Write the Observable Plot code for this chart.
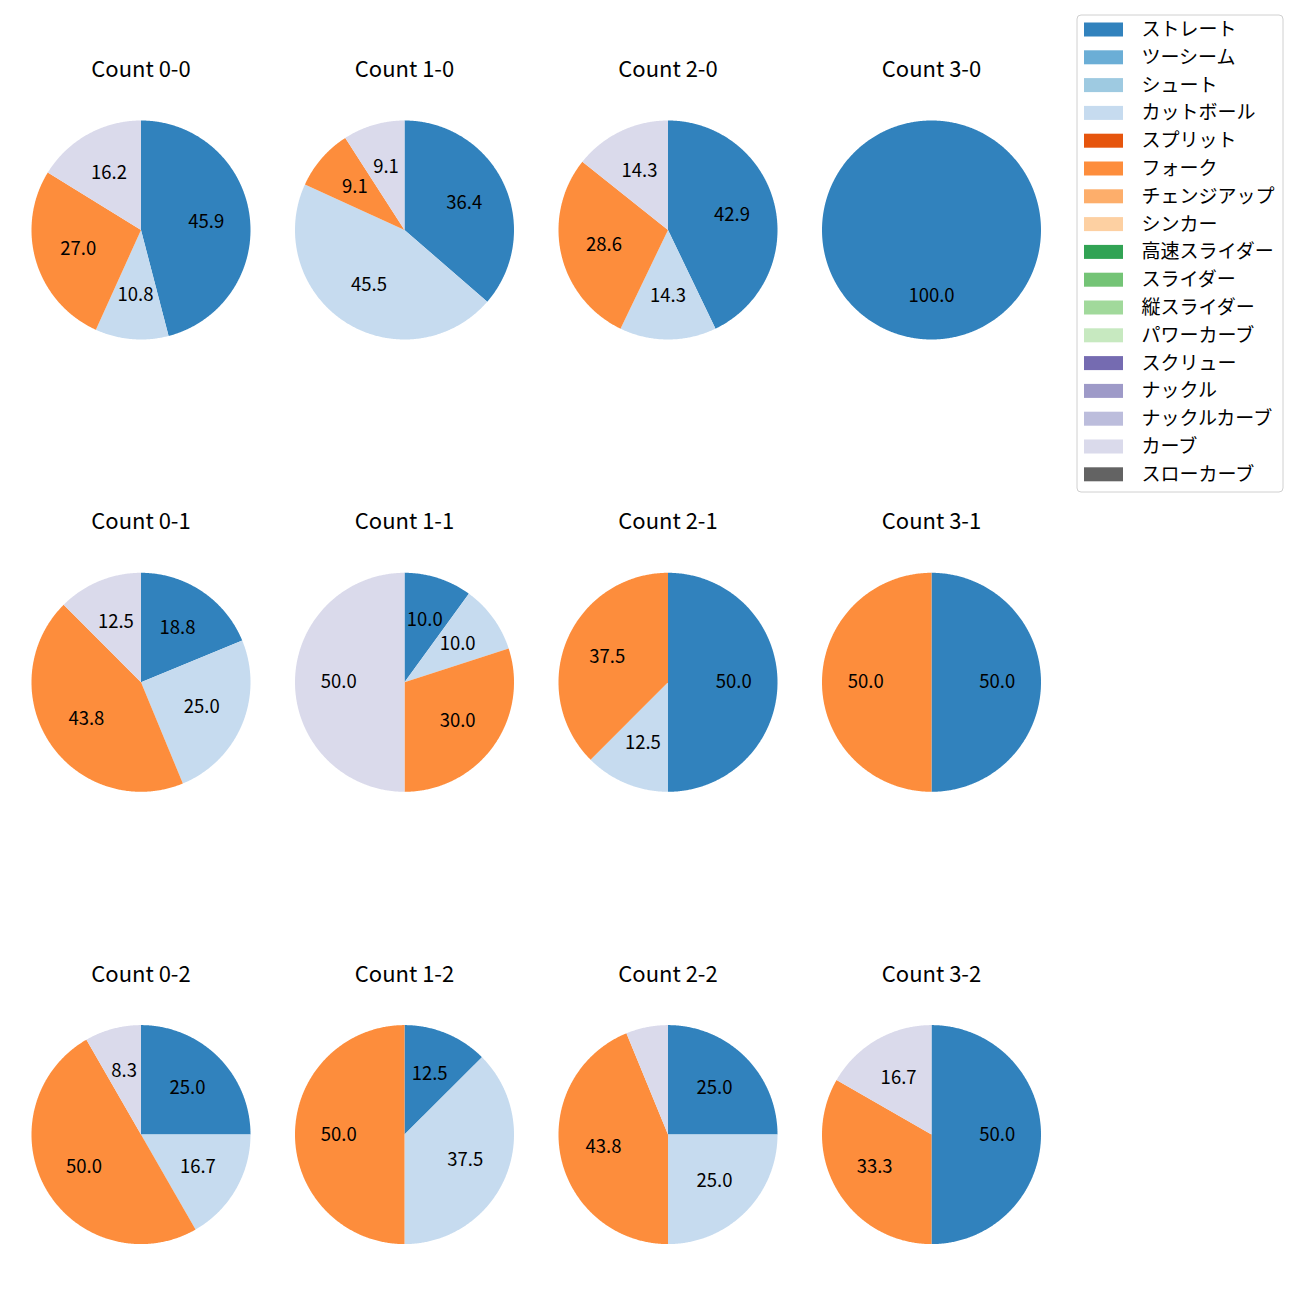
<!DOCTYPE html>
<html><head><meta charset="utf-8">
<script src="https://cdn.jsdelivr.net/npm/d3@7"></script>
<script src="https://cdn.jsdelivr.net/npm/@observablehq/plot@0.6"></script>
<style>body{margin:0;background:#fff}</style>
</head><body><div id="chart"></div>
<script>
const pitchTypes = ["ストレート","ツーシーム","シュート","カットボール","スプリット","フォーク","チェンジアップ","シンカー","高速スライダー","スライダー","縦スライダー","パワーカーブ","スクリュー","ナックル","ナックルカーブ","カーブ","スローカーブ"];
const pitchColors = ["#3182bd","#6baed6","#9ecae1","#c6dbef","#e6550d","#fd8d3c","#fdae6b","#fdd0a2","#31a354","#74c476","#a1d99b","#c7e9c0","#756bb1","#9e9ac8","#bcbddc","#dadaeb","#636363"];
const counts = ["0-0","1-0","2-0","3-0","0-1","1-1","2-1","3-1","0-2","1-2","2-2","3-2"];
const straight = [45.9, 36.4, 42.9, 100.0, 18.8, 10.0, 50.0, 50.0, 25.0, 12.5, 25.0, 50.0];
const cutter   = [10.8, 45.5, 14.3, 0, 25.0, 10.0, 12.5, 0, 16.7, 37.5, 25.0, 0];
const fork     = [27.0, 9.1, 28.6, 0, 43.8, 30.0, 37.5, 50.0, 50.0, 50.0, 43.8, 33.3];
const curve    = [16.2, 9.1, 14.3, 0, 12.5, 50.0, 0, 0, 8.3, 0, 6.2, 16.7];

const seriesByPitch = {"ストレート": straight, "カットボール": cutter, "フォーク": fork, "カーブ": curve};

// layout (pixels, figure is 1300x1300)
const W = 1300, H = 1300;
const colX0 = 140.5, colStep = 263.5, rowY0 = 229.5, rowStep = 452.3, R = 109.5, titleOff = 160;
const labelMin = 7;

const slicePts = [], labels = [], titles = [];
counts.forEach((c, i) => {
  const col = i % 4, row = Math.floor(i / 4);
  const cx = colX0 + col * colStep, cy = rowY0 + row * rowStep;
  titles.push({x: cx, y: cy - titleOff, text: "Count " + c});
  const vals = pitchTypes.map(p => ({pitch: p, v: seriesByPitch[p] ? seriesByPitch[p][i] : 0})).filter(d => d.v > 0);
  const total = d3.sum(vals, d => d.v);
  let cum = 0;
  vals.forEach(d => {
    const a0 = cum / total * 2 * Math.PI;
    cum += d.v;
    const a1 = cum / total * 2 * Math.PI;
    const key = c + "|" + d.pitch;
    const n = Math.max(2, Math.ceil((a1 - a0) / (Math.PI / 360)));
    slicePts.push({key, pitch: d.pitch, x: cx, y: cy});
    for (let k = 0; k <= n; k++) {
      const a = a0 + (a1 - a0) * k / n;
      slicePts.push({key, pitch: d.pitch, x: cx + R * Math.sin(a), y: cy - R * Math.cos(a)});
    }
    slicePts.push({key, pitch: d.pitch, x: cx, y: cy});
    if (d.v >= labelMin) {
      const am = (a0 + a1) / 2;
      labels.push({x: cx + 0.6 * R * Math.sin(am), y: cy - 0.6 * R * Math.cos(am), text: d.v.toFixed(1)});
    }
  });
});

// legend layout
const legX1 = 1077, legX2 = 1283, legY1 = 15, legY2 = 492;
const legRow0 = 29.5, legStep = 27.8;
const legend = pitchTypes.map((p, i) => ({pitch: p, y: legRow0 + i * legStep}));

const font = "'Noto Sans CJK JP', 'Noto Sans', sans-serif";
const chart = Plot.plot({
  width: W, height: H, margin: 0,
  x: {domain: [0, W], range: [0, W], axis: null},
  y: {domain: [0, H], range: [0, H], axis: null},
  color: {domain: pitchTypes, range: pitchColors},
  style: {fontFamily: font, background: "#fff"},
  marks: [
    Plot.line(slicePts, {x: "x", y: "y", z: "key", fill: "pitch", stroke: "none", curve: "linear"}),
    Plot.text(labels, {x: "x", y: "y", text: "text", fontSize: 18.5, fill: "#000"}),
    Plot.text(titles, {x: "x", y: "y", text: "text", fontSize: 22, fill: "#000"}),
    Plot.rect([0], {x1: legX1, x2: legX2, y1: legY1, y2: legY2, fill: "#fff", stroke: "#d0d0d0", rx: 4}),
    Plot.rect(legend, {x1: 1084, x2: 1123, y1: d => d.y - 7, y2: d => d.y + 7, fill: "pitch"}),
    Plot.text(legend, {x: 1141, y: "y", text: "pitch", textAnchor: "start", fontSize: 19, fill: "#000"})
  ]
});
document.getElementById("chart").appendChild(chart);
</script>
</body></html>
